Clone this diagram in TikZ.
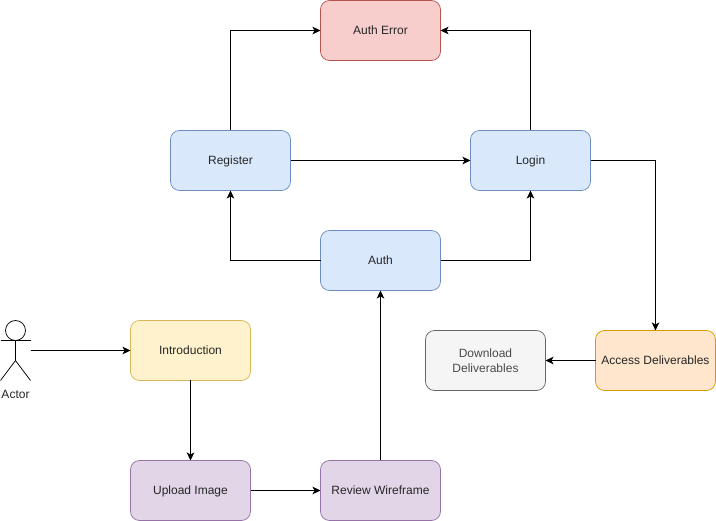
\documentclass[tikz,border=0pt]{standalone}
\usepackage{fontspec}
\setmainfont{Liberation Sans}
\usetikzlibrary{arrows.meta}
\definecolor{blueF}{HTML}{DAE8FC}\definecolor{blueD}{HTML}{6C8EBF}
\definecolor{redF}{HTML}{F8CECC}\definecolor{redD}{HTML}{B85450}
\definecolor{yelF}{HTML}{FFF2CC}\definecolor{yelD}{HTML}{D6B656}
\definecolor{purF}{HTML}{E1D5E7}\definecolor{purD}{HTML}{9673A6}
\definecolor{oraF}{HTML}{FFE6CC}\definecolor{oraD}{HTML}{D79B00}
\definecolor{greF}{HTML}{F5F5F5}\definecolor{greD}{HTML}{666666}
\definecolor{greT}{HTML}{4A4A4A}
\tikzset{
  x=1pt,y=-1pt,
  boxstyle/.style={draw,rounded corners=9pt,minimum width=120pt,minimum height=60pt,inner sep=0pt,outer sep=0pt,line width=0.75pt,align=center,font=\fontsize{12}{15}\selectfont,text=black!85},
  oneline/.style={text height=10pt,text depth=2pt},
  bluebox/.style={boxstyle,oneline,fill=blueF,draw=blueD},
  redbox/.style={boxstyle,oneline,fill=redF,draw=redD},
  yelbox/.style={boxstyle,oneline,fill=yelF,draw=yelD},
  purbox/.style={boxstyle,oneline,fill=purF,draw=purD},
  orabox/.style={boxstyle,oneline,fill=oraF,draw=oraD},
  grebox/.style={boxstyle,fill=greF,draw=greD,text=greT},
  link/.style={draw=black,line width=0.75pt,-{Stealth[length=8pt,width=7.5pt,inset=2pt]}},
  figure/.style={draw=black,line width=0.75pt},
  actorbox/.style={minimum width=30pt,minimum height=60pt,inner sep=0pt,outer sep=0pt},
  actorlabel/.style={font=\fontsize{12}{15}\selectfont,text=black!85,inner sep=0pt}
}
\begin{document}
\begin{tikzpicture}
\useasboundingbox (0,0) rectangle (716,521);
\node[redbox]  (err)  at (380.5,30.5)  {Auth Error};
\node[bluebox] (reg)  at (230.5,160.5) {Register};
\node[bluebox] (login) at (530.5,160.5) {Login};
\node[bluebox] (auth) at (380.5,260.5) {Auth};
\node[yelbox]  (intro) at (190.5,350.5) {Introduction};
\node[purbox]  (upload) at (190.5,490.5) {Upload Image};
\node[purbox]  (review) at (380.5,490.5) {Review Wireframe};
\node[grebox]  (down) at (485.5,360.5) {Download\\Deliverables};
\node[orabox]  (access) at (655.5,360.5) {Access Deliverables};
\node[actorbox] (actor) at (15.5,350.5) {};
\node[actorlabel] (actorname) at (15.5,394) {Actor};
\draw[figure] (15.5,330.5) circle (10pt);
\draw[figure] (15.5,340.5) -- (15.5,360.5);
\draw[figure] (0.5,340.5) -- (30.5,340.5);
\draw[figure] (0.5,380.5) -- (15.5,360.5) -- (30.5,380.5);
\draw[link] (actor.east) -- (intro.west);
\draw[link] (intro.south) -- (upload.north);
\draw[link] (upload.east) -- (review.west);
\draw[link] (review.north) -- (auth.south);
\draw[link] (auth.west) -| (reg.south);
\draw[link] (auth.east) -| (login.south);
\draw[link] (reg.east) -- (login.west);
\draw[link] (reg.north) |- (err.west);
\draw[link] (login.north) |- (err.east);
\draw[link] (login.east) -| (access.north);
\draw[link] (access.west) -- (down.east);
\end{tikzpicture}
\end{document}
